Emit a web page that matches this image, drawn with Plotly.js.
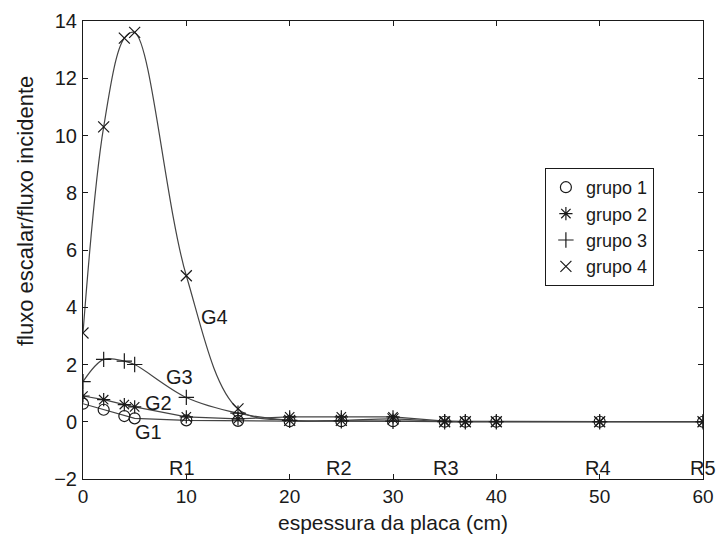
<!DOCTYPE html>
<html>
<head>
<meta charset="utf-8">
<script src="https://cdn.plot.ly/plotly-3.0.1.min.js"></script>
<style>html,body{margin:0;padding:0;background:#fff;}#chart{width:717px;height:535px;}</style>
</head>
<body>
<div id="chart"></div>
<script>
// Data
const espessura = [0, 2, 4, 5, 10, 15, 20, 25, 30, 35, 37, 40, 50, 60];
const grupo1 = [0.63, 0.42, 0.2, 0.12, 0.05, 0.03, 0.02, 0.02, 0.02, 0, 0, 0, 0, 0];
const grupo2 = [0.9, 0.77, 0.6, 0.52, 0.17, 0.1, 0.17, 0.17, 0.17, 0.02, 0, 0, 0, 0];
const grupo3 = [1.4, 2.18, 2.12, 2.0, 0.85, 0.3, 0.05, 0.03, 0.02, 0, 0, 0, 0, 0];
const grupo4 = [3.1, 10.3, 13.4, 13.6, 5.1, 0.45, 0.05, 0.05, 0.1, 0, 0, 0, 0, 0];
const seriesNames = ["grupo 1", "grupo 2", "grupo 3", "grupo 4"];
const curveLabels = ["G1", "G2", "G3", "G4"];
const curveLabelX = [6.3, 7.3, 9.3, 12.7];
const curveLabelY = [-0.37, 0.64, 1.55, 3.65];
const regionLabels = ["R1", "R2", "R3", "R4", "R5"];
const regionLabelX = [9.6, 24.8, 35.1, 49.8, 60];
const regionLabelY = -1.62;
const xTitle = "espessura da placa (cm)";
const yTitle = "fluxo escalar/fluxo incidente";

const allSeries = [grupo1, grupo2, grupo3, grupo4];
const symbols = ["circle-open", "asterisk-open", "cross-thin-open", "x-thin-open"];
const shapes = ["linear", "linear", "spline", "spline"];
const ink = "#1a1a1a";
const lineCol = "#444";

const traces = [];
allSeries.forEach((ys, i) => {
  traces.push({
    x: espessura, y: ys, type: "scatter", mode: "lines",
    line: {color: lineCol, width: 1.2, shape: shapes[i], smoothing: 1},
    showlegend: false, hoverinfo: "skip"
  });
});
allSeries.forEach((ys, i) => {
  traces.push({
    x: espessura, y: ys, type: "scatter", mode: "markers", name: seriesNames[i],
    marker: {symbol: symbols[i], size: 11, color: ink, line: {color: ink, width: 1.2}},
    showlegend: true
  });
});

const plotH = 535 - 21 - 56, plotW = 717 - 83 - 14;
const annotations = [];
curveLabels.forEach((t, i) => annotations.push({
  x: curveLabelX[i], y: curveLabelY[i], xref: "x", yref: "y", text: t,
  showarrow: false, font: {size: 20, color: ink}
}));
regionLabels.forEach((t, i) => annotations.push({
  x: regionLabelX[i], y: regionLabelY, xref: "x", yref: "y", text: t,
  showarrow: false, font: {size: 20, color: ink}
}));
annotations.push({
  x: (26 - 83) / plotW, y: (479 - 211) / plotH, xref: "paper", yref: "paper",
  xanchor: "center", yanchor: "middle", text: yTitle, textangle: -90,
  showarrow: false, font: {size: 22, color: ink}
});
annotations.push({
  x: (393 - 83) / plotW, y: (479 - 522) / plotH, xref: "paper", yref: "paper",
  xanchor: "center", yanchor: "middle", text: xTitle,
  showarrow: false, font: {size: 21, color: ink}
});

const layout = {
  width: 717, height: 535,
  margin: {l: 83, r: 14, t: 21, b: 56, pad: 0},
  paper_bgcolor: "#fff", plot_bgcolor: "#fff",
  font: {family: "Liberation Sans, Arial, sans-serif", size: 20, color: ink},
  showlegend: true,
  legend: {
    x: 0.745, y: 0.679, xanchor: "left", yanchor: "top",
    bgcolor: "#fff", bordercolor: ink, borderwidth: 1,
    font: {size: 18, color: ink}, itemwidth: 30, tracegroupgap: 0
  },
  xaxis: {
    range: [0, 60], tickvals: [0, 10, 20, 30, 40, 50, 60],
    ticks: "inside", ticklen: 5, tickcolor: ink, showgrid: false, zeroline: false,
    showline: true, linecolor: ink, linewidth: 1, mirror: "ticks",
    tickfont: {size: 19, color: ink}, ticklabelstandoff: 0
  },
  yaxis: {
    range: [-2, 14], tickvals: [-2, 0, 2, 4, 6, 8, 10, 12, 14],
    ticks: "inside", ticklen: 5, tickcolor: ink, showgrid: false, zeroline: false,
    showline: true, linecolor: ink, linewidth: 1, mirror: "ticks",
    tickfont: {size: 20, color: ink}, ticklabelstandoff: 1
  },
  annotations: annotations
};

Plotly.newPlot("chart", traces, layout, {displayModeBar: false, staticPlot: true});
</script>
</body>
</html>
